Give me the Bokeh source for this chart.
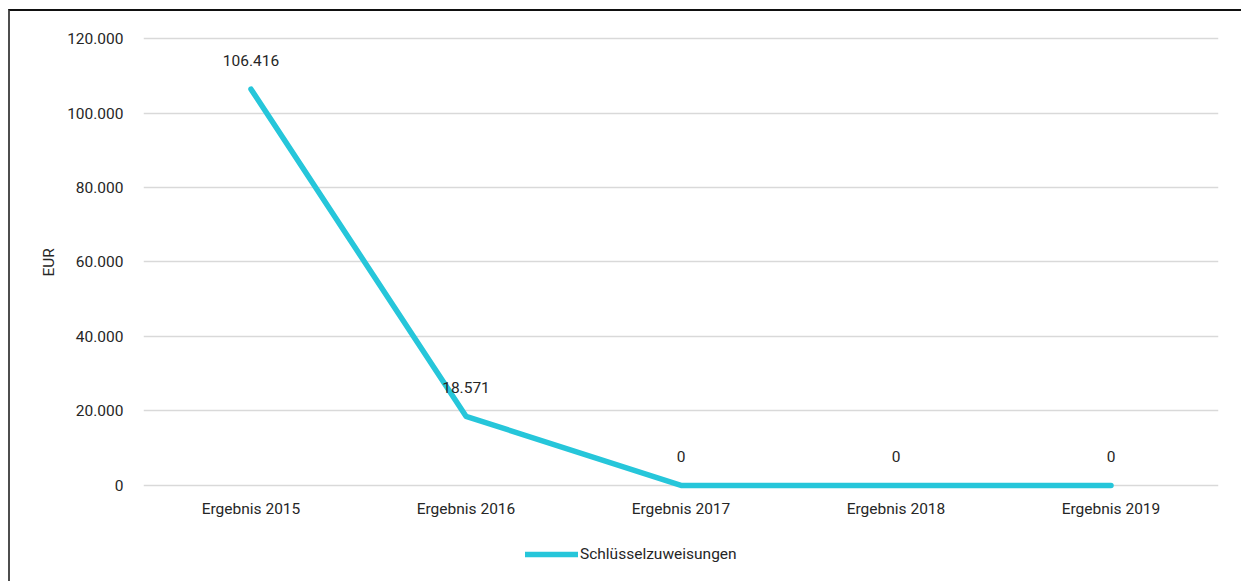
from bokeh.plotting import figure
from bokeh.models import FactorRange, Range1d, FixedTicker, Legend, LegendItem, ColumnDataSource, LabelSet, Title
from bokeh.core.properties import value
from bokeh.embed import file_html
from bokeh.resources import INLINE

categories = ["Ergebnis 2015", "Ergebnis 2016", "Ergebnis 2017", "Ergebnis 2018", "Ergebnis 2019"]
values = [106416, 18571, 0, 0, 0]
value_labels = ["106.416", "18.571", "0", "0", "0"]
series_name = "Schlüsselzuweisungen"
y_title = "EUR"
y_ticks = [0, 20000, 40000, 60000, 80000, 100000, 120000]
y_tick_labels = ["0", "20.000", "40.000", "60.000", "80.000", "100.000", "120.000"]

FONT = "'Liberation Sans Narrow', 'Arial Narrow', Roboto, sans-serif"
TXT = "#262626"
LINE = "#26C6DA"
FS = "15.5px"

p = figure(width=1233, height=572, output_backend="svg", toolbar_location=None,
           x_range=FactorRange(*categories, range_padding=0),
           y_range=Range1d(-25000, 121900),
           min_border_left=133, min_border_right=25, min_border_top=20, min_border_bottom=5,
           margin=(9, 0, 0, 8))
p.styles = {"border-top": "2px solid #111111", "border-left": "2px solid #4d4d4d"}
p.outline_line_color = None
p.background_fill_color = "white"
p.border_fill_color = "white"

p.xgrid.grid_line_color = None
p.ygrid.grid_line_color = "#d9d9d9"
p.ygrid.grid_line_width = 1.5
p.yaxis.ticker = FixedTicker(ticks=y_ticks)
p.yaxis.major_label_overrides = {t: l for t, l in zip(y_ticks, y_tick_labels)}

for ax in (p.xaxis[0], p.yaxis[0]):
    ax.axis_line_color = None
    ax.major_tick_line_color = None
    ax.minor_tick_line_color = None
    ax.major_label_text_font = FONT
    ax.major_label_text_font_size = FS
    ax.major_label_text_color = TXT
p.xaxis.fixed_location = 0
p.xaxis.major_label_standoff = 9
p.yaxis.major_label_standoff = 14

# y-axis title placed beside the tick span (0 .. 120.000)
ytitle = Title(text=y_title, align="left", offset=302, standoff=14,
               text_font=FONT, text_font_size=FS, text_font_style="normal", text_color=TXT)
p.add_layout(ytitle, "left")

src = ColumnDataSource(dict(x=categories, y=values, lab=value_labels))
r = p.line("x", "y", source=src, line_color=LINE, line_width=5.5, line_cap="round", line_join="round")

labels = LabelSet(x="x", y="y", text="lab", source=src, text_align="center", text_baseline="middle",
                  y_offset=29, text_font=value(FONT), text_font_size=FS, text_color=TXT)
p.add_layout(labels)

legend = Legend(items=[LegendItem(label=series_name, renderers=[r])], location=(382, 14),
                orientation="horizontal", padding=0, margin=0, glyph_width=53, glyph_height=20,
                label_standoff=2, label_text_font=FONT, label_text_font_size=FS,
                label_text_color=TXT, border_line_color=None, background_fill_alpha=0)
p.add_layout(legend, "center")

open("out.html", "w").write(file_html(p, INLINE))
